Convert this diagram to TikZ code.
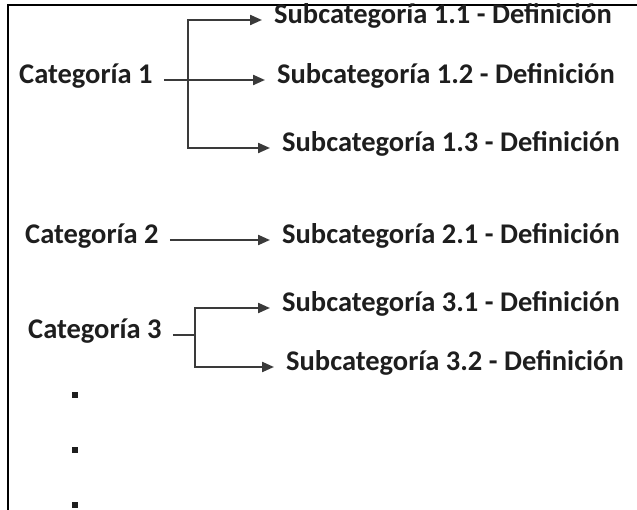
\documentclass[tikz,border=0pt]{standalone}
\usepackage{fontspec}
\setmainfont{Carlito}
\usetikzlibrary{arrows.meta}
\definecolor{ink}{HTML}{1E1E1E}
\definecolor{wire}{HTML}{3A3A3A}
\begin{document}
\begin{tikzpicture}[x=1pt,y=-1pt,
  every node/.style={font=\fontsize{28.5}{33}\selectfont\bfseries, text=ink,
    inner sep=0pt, text height=0.64em, text depth=0pt, anchor=west},
  link/.style={draw=wire, line width=2.2pt,
    -{Triangle[length=12pt,width=10pt]}, shorten >=12pt},
  from/.style={shorten <=11pt},
  bullet/.style={fill=ink, minimum size=5.5pt, text height=, inner sep=0pt, anchor=center}]
\useasboundingbox (0,0) rectangle (637,510);
% open frame: left and top edges
\draw[line width=1.5pt, black] (8,510) -- (8,5) -- (637,5);

% category 1 and its three subcategories
\node (c1)  at (19,80)   {Categoría 1};
\node (s11) at (274,20)  {Subcategoría 1.1 - Definición};
\node (s12) at (277,80)  {Subcategoría 1.2 - Definición};
\node (s13) at (282,148) {Subcategoría 1.3 - Definición};
\coordinate (j1) at (188,80);
\draw[link, from] (c1.east) -- (s12.west);
\draw[link] (j1) |- (s11.west);
\draw[link] (j1) |- (s13.west);

% category 2
\node (c2)  at (25,240)  {Categoría 2};
\node (s21) at (282,240) {Subcategoría 2.1 - Definición};
\draw[link, from] (c2.east) -- (s21.west);

% category 3 and its two subcategories
\node (c3)  at (28,335)  {Categoría 3};
\node (s31) at (282,308) {Subcategoría 3.1 - Definición};
\node (s32) at (286,367) {Subcategoría 3.2 - Definición};
\coordinate (j3) at (195,335);
\draw[draw=wire, line width=2.2pt, shorten <=11pt] (c3.east) -- (j3);
\draw[link] (j3) |- (s31.west);
\draw[link] (j3) |- (s32.west);

% continuation dots
\node[bullet] (d1) at (75,395) {};
\node[bullet] (d2) at (75,450) {};
\node[bullet] (d3) at (75,505) {};
\end{tikzpicture}
\end{document}
